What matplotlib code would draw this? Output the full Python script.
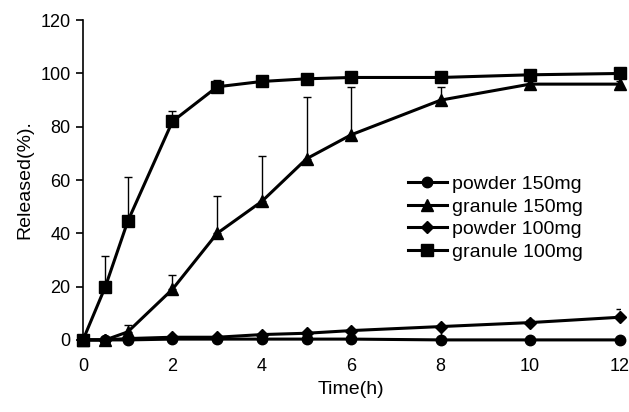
import numpy as np
import matplotlib
matplotlib.use('Agg')
import matplotlib.pyplot as plt

plt.rcParams['font.family'] = ['Liberation Sans', 'DejaVu Sans']

# sampling times (h)
t = [0, 0.5, 1, 2, 3, 4, 5, 6, 8, 10, 12]

powder150 = [0, 0, 0, 0.3, 0.3, 0.3, 0.3, 0.3, 0, 0, 0]
powder150_err = [0, 0, 0, 0, 0, 0, 0, 0, 0, 0, 0]

granule150 = [0, 0, 3, 19, 40, 52, 68, 77, 90, 96, 96]
granule150_err = [0, 0, 2.5, 5.5, 14, 17, 23, 18, 5, 1, 1]

powder100 = [0, 0, 0.5, 1, 1, 2, 2.5, 3.5, 5, 6.5, 8.5]
powder100_err = [0, 0, 0, 0, 0, 0, 0, 0, -5, 1, 3]

granule100 = [0, 20, 44.5, 82, 95, 97, 98, 98.5, 98.5, 99.5, 100]
granule100_err = [0, 11.5, 16.5, 4, 2.5, 0.5, 0.5, 0.5, 0.5, 0.5, 0.5]

series = [
    ('powder 150mg', powder150, powder150_err, 'o', 7.5),
    ('granule 150mg', granule150, granule150_err, '^', 8.5),
    ('powder 100mg', powder100, powder100_err, 'D', 6),
    ('granule 100mg', granule100, granule100_err, 's', 8.5),
]

fig = plt.figure(figsize=(6.29, 4.12), dpi=100)
ax = fig.add_axes([0.132, 0.175, 0.853, 0.776])

for name, y, err, mk, ms in series:
    y = np.array(y, dtype=float)
    err = np.array(err, dtype=float)
    up = np.where(err > 0, err, 0)
    down = np.where(err < 0, -err, 0)
    ax.errorbar(t, y, yerr=[down, up], fmt='none', ecolor='black',
                elinewidth=1, capsize=3, capthick=1)
    ax.plot(t, y, color='black', lw=2.2, marker=mk, ms=ms, label=name,
            clip_on=False, zorder=3)

ax.set_xlim(0, 12)
ax.set_ylim(0, 120)
ax.set_xticks(range(0, 13, 2))
ax.set_yticks(range(0, 121, 20))
ax.spines['top'].set_visible(False)
ax.spines['right'].set_visible(False)
ax.spines['bottom'].set_visible(False)
ax.spines['left'].set_linewidth(1.2)
ax.tick_params(axis='y', labelsize=13, direction='out', length=5, width=1.2, pad=4)
ax.tick_params(axis='x', labelsize=13, length=0, pad=13)
ax.set_xlabel('Time(h)', fontsize=14, labelpad=4)
ax.set_ylabel('Released(%).', fontsize=14, labelpad=5)

ax.legend(loc='upper left', bbox_to_anchor=(0.605, 0.514), frameon=False,
          fontsize=14, handlelength=2.0, handletextpad=0.3, labelspacing=0.25,
          borderpad=0, borderaxespad=0)

fig.savefig('out.png', dpi=100)
